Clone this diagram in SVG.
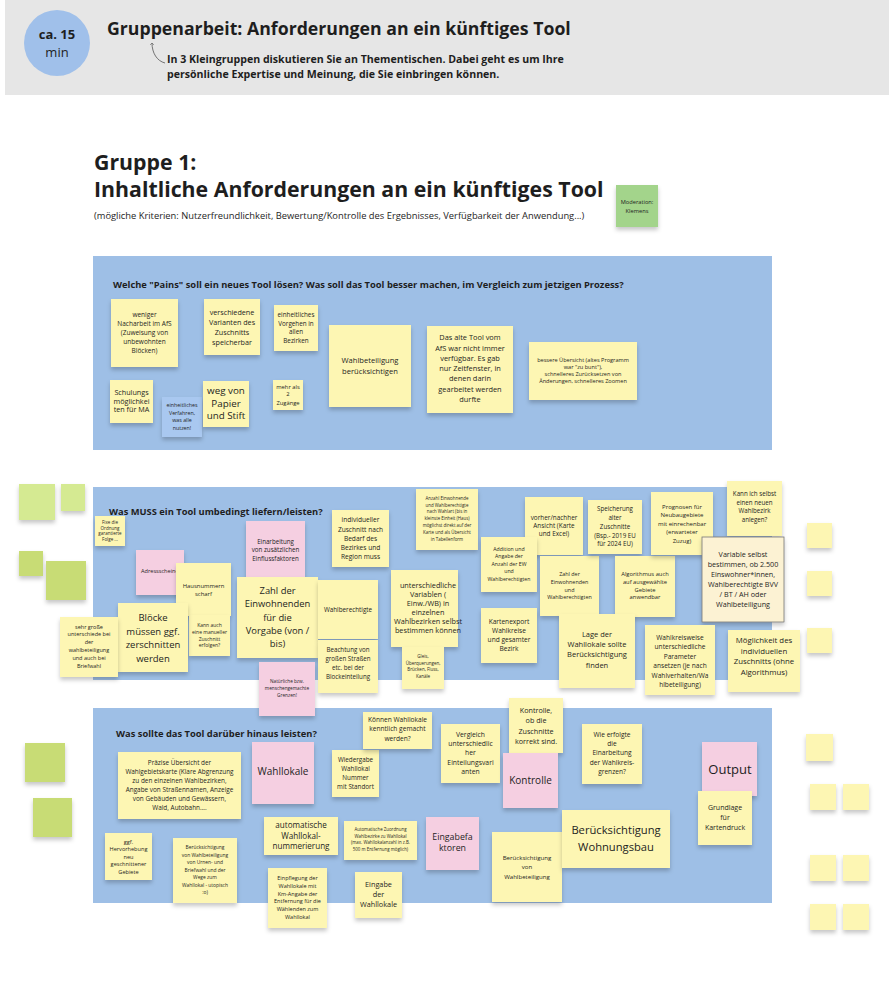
<svg xmlns="http://www.w3.org/2000/svg" width="889" height="1004" viewBox="0 0 889 1004">
<defs>
<filter id="sh" x="-20%" y="-20%" width="140%" height="150%">
<feDropShadow dx="0" dy="3" stdDeviation="2" flood-color="#000" flood-opacity="0.22"/>
</filter>
<marker id="ah" viewBox="0 0 10 10" refX="5" refY="5" markerWidth="6" markerHeight="6" orient="auto-start-reverse">
<path d="M1,1 L5,5 L1,9" fill="none" stroke="#555" stroke-width="1.2"/>
</marker>
</defs>
<style>
.y{fill:#fdf6b3;filter:url(#sh)}
.p{fill:#f5cfe1;filter:url(#sh)}
.lb{fill:#a9c8f0;filter:url(#sh)}
.g1{fill:#d5ea92;filter:url(#sh)}
.g2{fill:#c8dc74;filter:url(#sh)}
.gm{fill:#a3d48b;filter:url(#sh)}
.sec{fill:#9ebfe6}
.t{font-family:"Open Sans","Liberation Sans",sans-serif;fill:#1e1e1e;text-anchor:middle}
.b{font-family:"Open Sans","Liberation Sans",sans-serif;font-weight:bold;fill:#1e1e1e}
.r{font-family:"Open Sans","Liberation Sans",sans-serif;fill:#1e1e1e}
</style>
<rect width="889" height="1004" fill="#ffffff"/>

<g id="header">
<rect x="5" y="0" width="884" height="95" fill="#e6e6e6"/>
<circle cx="57" cy="43" r="33" fill="#a0c0ea"/>
<text class="t" x="57" y="39" font-size="13" font-weight="bold">ca. 15</text>
<text class="t" x="57" y="57" font-size="13">min</text>
<text class="b" x="107" y="35" font-size="17.7">Gruppenarbeit: Anforderungen an ein künftiges Tool</text>
<text class="b" x="167" y="63" font-size="10.6">In 3 Kleingruppen diskutieren Sie an Thementischen. Dabei geht es um Ihre</text>
<text class="b" x="167" y="78" font-size="10.6">persönliche Expertise und Meinung, die Sie einbringen können.</text>
</g>

<g id="connectors">
<path d="M165,63 C157,61 152,53 152,43" fill="none" stroke="#555" stroke-width="0.8" marker-end="url(#ah)"/>
</g>

<g id="title">
<text class="b" x="94" y="170" font-size="21.3">Gruppe 1:</text>
<text class="b" x="94" y="197" font-size="21.3">Inhaltliche Anforderungen an ein künftiges Tool</text>
<text class="r" x="94" y="219" font-size="9.35">(mögliche Kriterien: Nutzerfreundlichkeit, Bewertung/Kontrolle des Ergebnisses, Verfügbarkeit der Anwendung...)</text>
</g>

<g id="moderation">
<rect class="gm" x="616" y="185" width="42" height="42"/>
<text class="t" font-size="5.7"><tspan x="637" y="204.3">Moderation:</tspan><tspan x="637" y="212.7">Klemens</tspan></text>
</g>

<g id="section1">
<rect class="sec" x="93" y="256" width="679" height="194"/>
<text class="b" x="113" y="288" font-size="9.35">Welche "Pains" soll ein neues Tool lösen? Was soll das Tool besser machen, im Vergleich zum jetzigen Prozess?</text>
</g>
<g id="section2">
<rect class="sec" x="93" y="487" width="679" height="193"/>
<text class="b" x="109" y="515" font-size="9.35">Was MUSS ein Tool umbedingt liefern/leisten?</text>
</g>
<g id="section3">
<rect class="sec" x="93" y="708" width="679" height="195"/>
<text class="b" x="116" y="737" font-size="9.35">Was sollte das Tool darüber hinaus leisten?</text>
</g>

<!-- Section 1 notes -->
<g id="s1-weniger">
<rect class="y" x="111" y="299" width="67" height="68"/>
<text class="t" font-size="6.5"><tspan x="144.5" y="317.3">weniger</tspan><tspan x="144.5" y="326.3">Nacharbeit im AfS</tspan><tspan x="144.5" y="335.3">(Zuweisung von</tspan><tspan x="144.5" y="344.3">unbewohnten</tspan><tspan x="144.5" y="353.3">Blöcken)</tspan></text>
</g>
<g id="s1-varianten">
<rect class="y" x="204" y="299" width="56" height="56"/>
<text class="t" font-size="7.2"><tspan x="232" y="315.2">verschiedene</tspan><tspan x="232" y="325.2">Varianten des</tspan><tspan x="232" y="335.2">Zuschnitts</tspan><tspan x="232" y="345.2">speicherbar</tspan></text>
</g>
<g id="s1-einheitlich">
<rect class="y" x="274" y="305" width="44" height="46"/>
<text class="t" font-size="6.3"><tspan x="296" y="317.1">einheitliches</tspan><tspan x="296" y="325.7">Vorgehen in</tspan><tspan x="296" y="334.3">allen</tspan><tspan x="296" y="342.9">Bezirken</tspan></text>
</g>
<g id="s1-schulung">
<rect class="y" x="110" y="380" width="43" height="43"/>
<text class="t" font-size="7.2"><tspan x="131.5" y="395.2">Schulungs</tspan><tspan x="131.5" y="403.6">möglichkei</tspan><tspan x="131.5" y="412">ten für MA</tspan></text>
</g>
<g id="s1-verfahren">
<rect class="lb" x="162" y="397" width="40" height="40"/>
<text class="t" font-size="5.3"><tspan x="182" y="407.4">einheitliches</tspan><tspan x="182" y="414.9">Verfahren,</tspan><tspan x="182" y="422.4">was alle</tspan><tspan x="182" y="429.9">nutzen!</tspan></text>
</g>
<g id="s1-papier">
<rect class="y" x="203" y="381" width="46" height="46"/>
<text class="t" font-size="9.8"><tspan x="226" y="394.3">weg von</tspan><tspan x="226" y="406.8">Papier</tspan><tspan x="226" y="419.3">und Stift</tspan></text>
</g>
<g id="s1-zugaenge">
<rect class="y" x="273" y="380" width="30" height="30"/>
<text class="t" font-size="5.8"><tspan x="288" y="388.6">mehr als</tspan><tspan x="288" y="396.4">2</tspan><tspan x="288" y="404.6">Zugänge</tspan></text>
</g>
<g id="s1-wahlbeteiligung">
<rect class="y" x="329" y="325" width="82" height="82"/>
<text class="t" font-size="7.6"><tspan x="370" y="362.7">Wahlbeteiligung</tspan><tspan x="370" y="374.4">berücksichtigen</tspan></text>
</g>
<g id="s1-altestool">
<rect class="y" x="427" y="326" width="86" height="87"/>
<text class="t" font-size="7.4"><tspan x="470" y="340.3">Das alte Tool vom</tspan><tspan x="470" y="350.6">AfS war nicht immer</tspan><tspan x="470" y="360.8">verfügbar. Es gab</tspan><tspan x="470" y="371.1">nur Zeitfenster, in</tspan><tspan x="470" y="381.4">denen darin</tspan><tspan x="470" y="391.7">gearbeitet werden</tspan><tspan x="470" y="401.9">durfte</tspan></text>
</g>
<g id="s1-uebersicht">
<rect class="y" x="529" y="342" width="108" height="58"/>
<text class="t" font-size="5.6"><tspan x="583" y="361.8">bessere Übersicht (altes Programm</tspan><tspan x="583" y="369">war "zu bunt"),</tspan><tspan x="583" y="376.2">schnelleres Zurücksetzen von</tspan><tspan x="583" y="383.4">Änderungen, schnelleres Zoomen</tspan></text>
</g>

<!-- left green notes -->
<g id="green1"><rect class="g1" x="19" y="484" width="36" height="36"/></g>
<g id="green2"><rect class="g1" x="61" y="484" width="24" height="27"/></g>
<g id="green3"><rect class="g2" x="19" y="551" width="24" height="25"/></g>
<g id="green4"><rect class="g2" x="46" y="561" width="40" height="39"/></g>
<g id="green5"><rect class="g2" x="25" y="743" width="40" height="39"/></g>
<g id="green6"><rect class="g2" x="33" y="798" width="39" height="39"/></g>

<!-- right empty notes -->
<g id="empty1"><rect class="y" x="807" y="523" width="25" height="25"/></g>
<g id="empty2"><rect class="y" x="807" y="571" width="25" height="25"/></g>
<g id="empty3"><rect class="y" x="807" y="628" width="25" height="25"/></g>
<g id="empty4"><rect class="y" x="806" y="734" width="27" height="27"/></g>
<g id="empty5"><rect class="y" x="810" y="784" width="26" height="26"/></g>
<g id="empty6"><rect class="y" x="843" y="784" width="26" height="26"/></g>
<g id="empty7"><rect class="y" x="810" y="855" width="26" height="26"/></g>
<g id="empty8"><rect class="y" x="843" y="855" width="26" height="26"/></g>
<g id="empty9"><rect class="y" x="810" y="904" width="26" height="26"/></g>
<g id="empty10"><rect class="y" x="843" y="904" width="26" height="26"/></g>

<!-- Section 2 notes -->
<g id="s2-fix">
<rect class="y" x="95" y="516" width="30" height="30"/>
<text class="t" font-size="4.5"><tspan x="110" y="524.3">Fixe die</tspan><tspan x="110" y="529.7">Ordnung</tspan><tspan x="110" y="535.1">garantierte</tspan><tspan x="110" y="540.5">Folge ...</tspan></text>
</g>
<g id="s2-adress">
<rect class="p" x="136" y="550" width="48" height="45"/>
<text class="r" font-size="5.6" x="141" y="573.4">Adressscheine</text>
</g>
<g id="s2-hausnummern">
<rect class="y" x="176" y="563" width="55" height="53"/>
<text class="t" font-size="5.9"><tspan x="203.5" y="588.1">Hausnummern</tspan><tspan x="203.5" y="596.4">scharf</tspan></text>
</g>
<g id="s2-kannauch">
<rect class="y" x="189" y="615" width="41" height="41"/>
<text class="t" font-size="5"><tspan x="209.5" y="626.7">Kann auch</tspan><tspan x="209.5" y="633.6">eine manueller</tspan><tspan x="209.5" y="640.5">Zuschnitt</tspan><tspan x="209.5" y="647.4">erfolgen?</tspan></text>
</g>
<g id="s2-bloecke">
<rect class="y" x="118" y="603" width="70" height="69"/>
<text class="t" font-size="9.5"><tspan x="153" y="620.6">Blöcke</tspan><tspan x="153" y="634.5">müssen ggf.</tspan><tspan x="153" y="648.4">zerschnitten</tspan><tspan x="153" y="662.3">werden</tspan></text>
</g>
<g id="s2-sehrgross">
<rect class="y" x="60" y="617" width="58" height="60"/>
<text class="t" font-size="5.5"><tspan x="89" y="628.6">sehr große</tspan><tspan x="89" y="636.4">unterschiede bei</tspan><tspan x="89" y="644.2">der</tspan><tspan x="89" y="652">wahlbeteiligung</tspan><tspan x="89" y="659.8">und auch bei</tspan><tspan x="89" y="667.6">Briefwahl</tspan></text>
</g>
<g id="s2-einarbeitung">
<rect class="p" x="246" y="521" width="59" height="56"/>
<text class="t" font-size="6.2"><tspan x="275.5" y="543.6">Einarbeitung</tspan><tspan x="275.5" y="552.3">von zusätzlichen</tspan><tspan x="275.5" y="561">Einflussfaktoren</tspan></text>
</g>
<g id="s2-zahl">
<rect class="y" x="237" y="577" width="81" height="81"/>
<text class="t" font-size="9.4"><tspan x="277.5" y="594.2">Zahl der</tspan><tspan x="277.5" y="607.4">Einwohnenden</tspan><tspan x="277.5" y="620.5">für die</tspan><tspan x="277.5" y="633.7">Vorgabe (von /</tspan><tspan x="277.5" y="646.8">bis)</tspan></text>
</g>
<g id="s2-individuell">
<rect class="y" x="332" y="510" width="57" height="57"/>
<text class="t" font-size="6.6"><tspan x="360.5" y="522.3">individueller</tspan><tspan x="360.5" y="531.5">Zuschnitt nach</tspan><tspan x="360.5" y="540.7">Bedarf des</tspan><tspan x="360.5" y="549.9">Bezirkes und</tspan><tspan x="360.5" y="559.1">Region muss</tspan></text>
</g>
<g id="s2-wahlberechtigte">
<rect class="y" x="318" y="580" width="60" height="59"/>
<text class="t" font-size="6.3"><tspan x="348" y="611.5">Wahlberechtigte</tspan></text>
</g>
<g id="s2-beachtung">
<rect class="y" x="318" y="640" width="60" height="53"/>
<text class="t" font-size="6.2"><tspan x="348" y="652.1">Beachtung von</tspan><tspan x="348" y="661">großen Straßen</tspan><tspan x="348" y="669.9">etc. bei der</tspan><tspan x="348" y="678.8">Blockeinteilung</tspan></text>
</g>
<g id="s2-anzahl">
<rect class="y" x="416" y="489" width="62" height="61"/>
<text class="t" font-size="4.4"><tspan x="447" y="499.8">Anzahl Einwohnende</tspan><tspan x="447" y="506.6">und Wahlberechtigte</tspan><tspan x="447" y="513.4">nach Wahlart (bis in</tspan><tspan x="447" y="520.3">kleinste Einheit (Haus)</tspan><tspan x="447" y="527.1">möglichst direkt auf der</tspan><tspan x="447" y="533.9">Karte und als Übersicht</tspan><tspan x="447" y="540.7">in Tabellenform</tspan></text>
</g>
<g id="s2-variablen">
<rect class="y" x="391" y="570" width="67" height="77"/>
<text class="t" font-size="7.3"><tspan x="428" y="587.6">unterschiedliche</tspan><tspan x="428" y="596.6">Variablen (</tspan><tspan x="428" y="605.6">Einw./WB) in</tspan><tspan x="428" y="614.6">einzelnen</tspan><tspan x="428" y="623.6">Wahlbezirken selbst</tspan><tspan x="428" y="632.6">bestimmen  können</tspan></text>
</g>
<g id="s2-gleis">
<rect class="y" x="402" y="647" width="42" height="42"/>
<text class="t" font-size="4.5"><tspan x="423" y="658.2">Gleis,</tspan><tspan x="423" y="664.7">Überquerungen,</tspan><tspan x="423" y="671.1">Brücken, Fluss,</tspan><tspan x="423" y="677.6">Kanäle</tspan></text>
</g>
<g id="s2-vorher">
<rect class="y" x="525" y="497" width="58" height="58"/>
<text class="t" font-size="6.4"><tspan x="554" y="519.5">vorher/nachher</tspan><tspan x="554" y="527.9">Ansicht  (Karte</tspan><tspan x="554" y="536.2">und Excel)</tspan></text>
</g>
<g id="s2-addition">
<rect class="y" x="481" y="537" width="56" height="55"/>
<text class="t" font-size="5.2"><tspan x="509" y="551">Addition und</tspan><tspan x="509" y="558.4">Angabe der</tspan><tspan x="509" y="565.8">Anzahl der EW</tspan><tspan x="509" y="573.2">und</tspan><tspan x="509" y="580.6">Wahlberechtigten</tspan></text>
</g>
<g id="s2-zahlder">
<rect class="y" x="540" y="556" width="59" height="60"/>
<text class="t" font-size="5.4"><tspan x="569.5" y="575.7">Zahl der</tspan><tspan x="569.5" y="583.6">Einwohnenden</tspan><tspan x="569.5" y="591.5">und</tspan><tspan x="569.5" y="599.4">Wahlberechtigten</tspan></text>
</g>
<g id="s2-kartenexport">
<rect class="y" x="481" y="608" width="56" height="55"/>
<text class="t" font-size="6.6"><tspan x="509" y="624">Kartenexport</tspan><tspan x="509" y="632.9">Wahlkreise</tspan><tspan x="509" y="641.8">und gesamter</tspan><tspan x="509" y="650.7">Bezirk</tspan></text>
</g>
<g id="s2-speicherung">
<rect class="y" x="588" y="500" width="54" height="54"/>
<text class="t" font-size="6.2"><tspan x="615" y="511.4">Speicherung</tspan><tspan x="615" y="520.1">alter</tspan><tspan x="615" y="528.9">Zuschnitte</tspan><tspan x="615" y="537.6">(Bsp.- 2019 EU</tspan><tspan x="615" y="546.4">für 2024 EU)</tspan></text>
</g>
<g id="s2-algorithmus">
<rect class="y" x="615" y="556" width="60" height="61"/>
<text class="t" font-size="5.8"><tspan x="645" y="576">Algorithmus auch</tspan><tspan x="645" y="583.8">auf ausgewählte</tspan><tspan x="645" y="591.5">Gebiete</tspan><tspan x="645" y="599.3">anwendbar</tspan></text>
</g>
<g id="s2-lage">
<rect class="y" x="559" y="614" width="76" height="74"/>
<text class="t" font-size="7.5"><tspan x="597" y="637">Lage der</tspan><tspan x="597" y="647.2">Wahllokale sollte</tspan><tspan x="597" y="657.4">Berücksichtigung</tspan><tspan x="597" y="667.6">finden</tspan></text>
</g>
<g id="s2-prognosen">
<rect class="y" x="651" y="492" width="62" height="63"/>
<text class="t" font-size="6"><tspan x="682" y="508.7">Prognosen für</tspan><tspan x="682" y="517.2">Neubaugebiete</tspan><tspan x="682" y="525.7">mit einrechenbar</tspan><tspan x="682" y="534.2">(erwarteter</tspan><tspan x="682" y="542.7">Zuzug)</tspan></text>
</g>
<g id="s2-kannich">
<rect class="y" x="727" y="481" width="55" height="55"/>
<text class="t" font-size="6.2"><tspan x="754.5" y="496.4">Kann ich selbst</tspan><tspan x="754.5" y="504.9">einen neuen</tspan><tspan x="754.5" y="513.4">Wahlbezirk</tspan><tspan x="754.5" y="521.9">anlegen?</tspan></text>
</g>
<g id="s2-variable">
<rect x="702" y="537" width="82" height="85" fill="#fcf2d3" stroke="#777" stroke-width="0.8" filter="url(#sh)"/>
<text class="t" font-size="7.2"><tspan x="743" y="556.9">Variable selbst</tspan><tspan x="743" y="567">bestimmen, ob 2.500</tspan><tspan x="743" y="577.1">Einswohner*innen,</tspan><tspan x="743" y="587.2">Wahlberechtigte BVV</tspan><tspan x="743" y="597.3">/ BT / AH oder</tspan><tspan x="743" y="607.4">Wahlbeteiligung</tspan></text>
</g>
<g id="s2-wahlkreisweise">
<rect class="y" x="645" y="625" width="70" height="70"/>
<text class="t" font-size="6.6"><tspan x="680" y="639.5">Wahlkreisweise</tspan><tspan x="680" y="649">unterschiedliche</tspan><tspan x="680" y="658.5">Parameter</tspan><tspan x="680" y="668">ansetzen (je nach</tspan><tspan x="680" y="677.5">Wahlverhalten/Wa</tspan><tspan x="680" y="687">hlbeteiligung)</tspan></text>
</g>
<g id="s2-moeglichkeit">
<rect class="y" x="728" y="630" width="72" height="62"/>
<text class="t" font-size="7.8"><tspan x="764" y="642.7">Möglichkeit des</tspan><tspan x="764" y="653.5">individuellen</tspan><tspan x="764" y="664.3">Zuschnitts (ohne</tspan><tspan x="764" y="675.1">Algorithmus)</tspan></text>
</g>
<g id="s2-natuerlich">
<rect class="p" x="259" y="662" width="56" height="54"/>
<text class="t" font-size="4.7"><tspan x="287" y="683.4">Natürliche bzw.</tspan><tspan x="287" y="690.4">menschengemachte</tspan><tspan x="287" y="697.4">Grenzen!</tspan></text>
</g>

<!-- Section 3 notes -->
<g id="s3-praezise">
<rect class="y" x="118" y="752" width="123" height="67"/>
<text class="t" font-size="6.4"><tspan x="179.5" y="764.9">Präzise Übersicht  der</tspan><tspan x="179.5" y="773.9">Wahlgebietskarte (Klare Abgrenzung</tspan><tspan x="179.5" y="782.9">zu den einzelnen Wahlbezirken,</tspan><tspan x="179.5" y="791.9">Angabe von Straßennamen, Anzeige</tspan><tspan x="179.5" y="800.9">von  Gebäuden und Gewässern,</tspan><tspan x="179.5" y="809.9">Wald, Autobahn....</tspan></text>
</g>
<g id="s3-ggf">
<rect class="y" x="105" y="833" width="47" height="47"/>
<text class="t" font-size="5.6"><tspan x="128.5" y="843.6">ggf.</tspan><tspan x="128.5" y="851.1">Hervorhebung</tspan><tspan x="128.5" y="858.6">neu</tspan><tspan x="128.5" y="866.1">geschnittener</tspan><tspan x="128.5" y="873.6">Gebiete</tspan></text>
</g>
<g id="s3-beruecks-urnen">
<rect class="y" x="173" y="838" width="64" height="65"/>
<text class="t" font-size="4.9"><tspan x="205" y="849">Berücksichtigung</tspan><tspan x="205" y="856.6">von Wahlbeteiligung</tspan><tspan x="205" y="864.1">von Urnen- und</tspan><tspan x="205" y="871.7">Briefwahl und der</tspan><tspan x="205" y="879.3">Wege zum</tspan><tspan x="205" y="886.8">Wahllokal - utopisch</tspan><tspan x="205" y="894.4">:o)</tspan></text>
</g>
<g id="s3-wahllokale">
<rect class="p" x="252" y="742" width="62" height="62"/>
<text class="t" font-size="10"><tspan x="283" y="775.2">Wahllokale</tspan></text>
</g>
<g id="s3-wiedergabe">
<rect class="y" x="332" y="750" width="47" height="47"/>
<text class="t" font-size="6.3"><tspan x="355.5" y="762.1">Wiedergabe</tspan><tspan x="355.5" y="771">Wahllokal</tspan><tspan x="355.5" y="779.9">Nummer</tspan><tspan x="355.5" y="788.8">mit Standort</tspan></text>
</g>
<g id="s3-koennen">
<rect class="y" x="363" y="712" width="69" height="37"/>
<text class="t" font-size="6.6"><tspan x="397.5" y="721.6">Können Wahllokale</tspan><tspan x="397.5" y="731.1">kenntlich gemacht</tspan><tspan x="397.5" y="740.6">werden?</tspan></text>
</g>
<g id="s3-vergleich">
<rect class="y" x="441" y="724" width="59" height="59"/>
<text class="t" font-size="6.8"><tspan x="470.5" y="736.6">Vergleich</tspan><tspan x="470.5" y="745.9">unterschiedlic</tspan><tspan x="470.5" y="755.3">her</tspan><tspan x="470.5" y="764.6">Einteilungsvari</tspan><tspan x="470.5" y="774">anten</tspan></text>
</g>
<g id="s3-automatisch">
<rect class="y" x="264" y="817" width="74" height="38"/>
<text class="t" font-size="8.1"><tspan x="301" y="827.8">automatische</tspan><tspan x="301" y="838.6">Wahllokal-</tspan><tspan x="301" y="849.4">nummerierung</tspan></text>
</g>
<g id="s3-zuordnung">
<rect class="y" x="344" y="821" width="73" height="39"/>
<text class="t" font-size="4.4"><tspan x="380.5" y="831.4">Automatische Zuordnung</tspan><tspan x="380.5" y="837.8">Wahlbezirke zu Wahllokal</tspan><tspan x="380.5" y="844.2">(max. Wahllokalanzahl in z.B.</tspan><tspan x="380.5" y="850.6">500 m Entfernung möglich)</tspan></text>
</g>
<g id="s3-eingabefaktoren">
<rect class="p" x="426" y="817" width="53" height="53"/>
<text class="t" font-size="8.8"><tspan x="452.5" y="839.7">Eingabefa</tspan><tspan x="452.5" y="851.3">ktoren</tspan></text>
</g>
<g id="s3-einpflegung">
<rect class="y" x="268" y="868" width="59" height="60"/>
<text class="t" font-size="5.5"><tspan x="297.5" y="879.6">Einpflegung der</tspan><tspan x="297.5" y="887.5">Wahllokale mit</tspan><tspan x="297.5" y="895.5">Km-Angabe der</tspan><tspan x="297.5" y="903.4">Entfernung für die</tspan><tspan x="297.5" y="911.3">Wählenden zum</tspan><tspan x="297.5" y="919.3">Wahllokal</tspan></text>
</g>
<g id="s3-eingabe">
<rect class="y" x="355" y="872" width="47" height="46"/>
<text class="t" font-size="7.3"><tspan x="378.5" y="886.6">Eingabe</tspan><tspan x="378.5" y="896.6">der</tspan><tspan x="378.5" y="906.6">Wahllokale</tspan></text>
</g>
<g id="s3-kontrolle-ob">
<rect class="y" x="509" y="698" width="54" height="55"/>
<text class="t" font-size="7.2"><tspan x="536" y="712.5">Kontrolle,</tspan><tspan x="536" y="723">ob die</tspan><tspan x="536" y="733.6">Zuschnitte</tspan><tspan x="536" y="744.1">korrekt sind.</tspan></text>
</g>
<g id="s3-kontrolle">
<rect class="p" x="503" y="753" width="55" height="55"/>
<text class="t" font-size="10"><tspan x="530.5" y="784.2">Kontrolle</tspan></text>
</g>
<g id="s3-wieerfolgte">
<rect class="y" x="582" y="724" width="60" height="60"/>
<text class="t" font-size="6.6"><tspan x="612" y="736.6">Wie erfolgte</tspan><tspan x="612" y="745.9">die</tspan><tspan x="612" y="755.3">Einarbeitung</tspan><tspan x="612" y="764.6">der Wahlkreis-</tspan><tspan x="612" y="774">grenzen?</tspan></text>
</g>
<g id="s3-wahlbeteiligung">
<rect class="y" x="492" y="832" width="70" height="70"/>
<text class="t" font-size="6.1"><tspan x="527" y="859.5">Berücksichtigung</tspan><tspan x="527" y="869.2">von</tspan><tspan x="527" y="878.9">Wahlbeteiligung</tspan></text>
</g>
<g id="s3-wohnungsbau">
<rect class="y" x="562" y="810" width="108" height="58"/>
<text class="t" font-size="11.2"><tspan x="616" y="834">Berücksichtigung</tspan><tspan x="616" y="850.7">Wohnungsbau</tspan></text>
</g>
<g id="s3-output">
<rect class="p" x="702" y="742" width="55" height="54"/>
<text class="t" font-size="13"><tspan x="730" y="773.5">Output</tspan></text>
</g>
<g id="s3-grundlage">
<rect class="y" x="698" y="791" width="54" height="54"/>
<text class="t" font-size="7"><tspan x="725" y="810">Grundlage</tspan><tspan x="725" y="820">für</tspan><tspan x="725" y="830">Kartendruck</tspan></text>
</g>
</svg>
